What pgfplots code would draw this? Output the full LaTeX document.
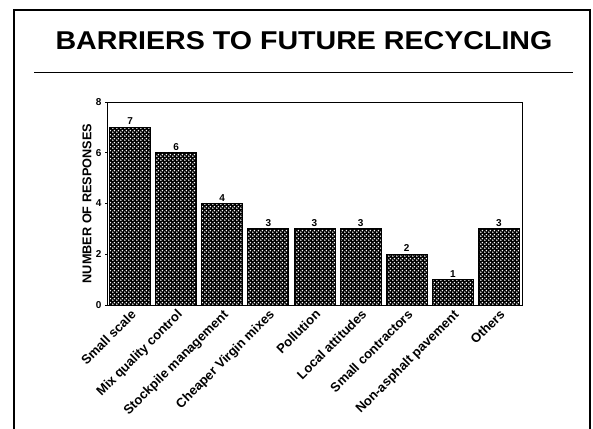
\documentclass[border=0pt]{standalone}
\usepackage{fontspec}
\setmainfont{Liberation Sans}
\usepackage{pgfplots}
\pgfplotsset{compat=1.18}
\usetikzlibrary{patterns.meta}
\pgfdeclarepattern{
  name=wdots, type=uncolored,
  bottom left={\pgfpoint{0pt}{0pt}}, top right={\pgfpoint{4pt}{4pt}},
  tile size={\pgfpoint{4pt}{4pt}},
  code={\pgfpathcircle{\pgfpoint{1pt}{1pt}}{0.95pt}\pgfpathcircle{\pgfpoint{3pt}{3pt}}{0.95pt}\pgfusepath{fill}}
}
\begin{document}
\begin{tikzpicture}
\useasboundingbox (0pt,0pt) rectangle (593pt,428pt);
% frame
\draw[line width=2pt] (14pt,-10pt) -- (14pt,418pt) -- (590pt,418pt) -- (590pt,-10pt);
% title
\node at (304pt,387pt) {\scalebox{1}[0.9]{\fontsize{28.6}{30}\selectfont\bfseries BARRIERS TO FUTURE RECYCLING}};
\draw[line width=1pt] (34pt,355pt) -- (573pt,355pt);
\begin{axis}[
  at={(107pt,123pt)}, anchor=south west,
  scale only axis, width=415pt, height=203pt,
  xmin=-0.5, xmax=8.5, ymin=0, ymax=8,
  ytick={0,2,4,6,8},
  xtick=data,
  xticklabels={Small scale, Mix quality control, Stockpile management, Cheaper Virgin mixes, Pollution, Local attitudes, Small contractors, Non-asphalt pavement, Others},
  xticklabel style={rotate=45, anchor=north east, font=\fontsize{13}{14}\selectfont\bfseries, inner sep=1pt},
  yticklabel style={font=\fontsize{10}{11}\selectfont\bfseries},
  /pgf/number format/assume math mode=true,
  x tick style={draw=none},
  y tick style={black, line width=0.6pt},
  tick align=outside, major tick length=2pt,
  ytick pos=left,
  ylabel={NUMBER OF RESPONSES},
  ylabel style={at={(axis description cs:-0.048,0.5)}, anchor=center, font=\fontsize{12.7}{13}\selectfont\bfseries},
  axis line style={line width=0.9pt},
  ybar, bar width=41pt,
  nodes near coords,
  nodes near coords style={font=\fontsize{10}{11}\selectfont\bfseries, inner sep=2pt},
]
\addplot[draw=black, line width=0.8pt, fill=black, postaction={pattern=wdots, pattern color=white}] coordinates {
(0,7) (1,6) (2,4) (3,3) (4,3) (5,3) (6,2) (7,1) (8,3)};
\end{axis}
\end{tikzpicture}
\end{document}
